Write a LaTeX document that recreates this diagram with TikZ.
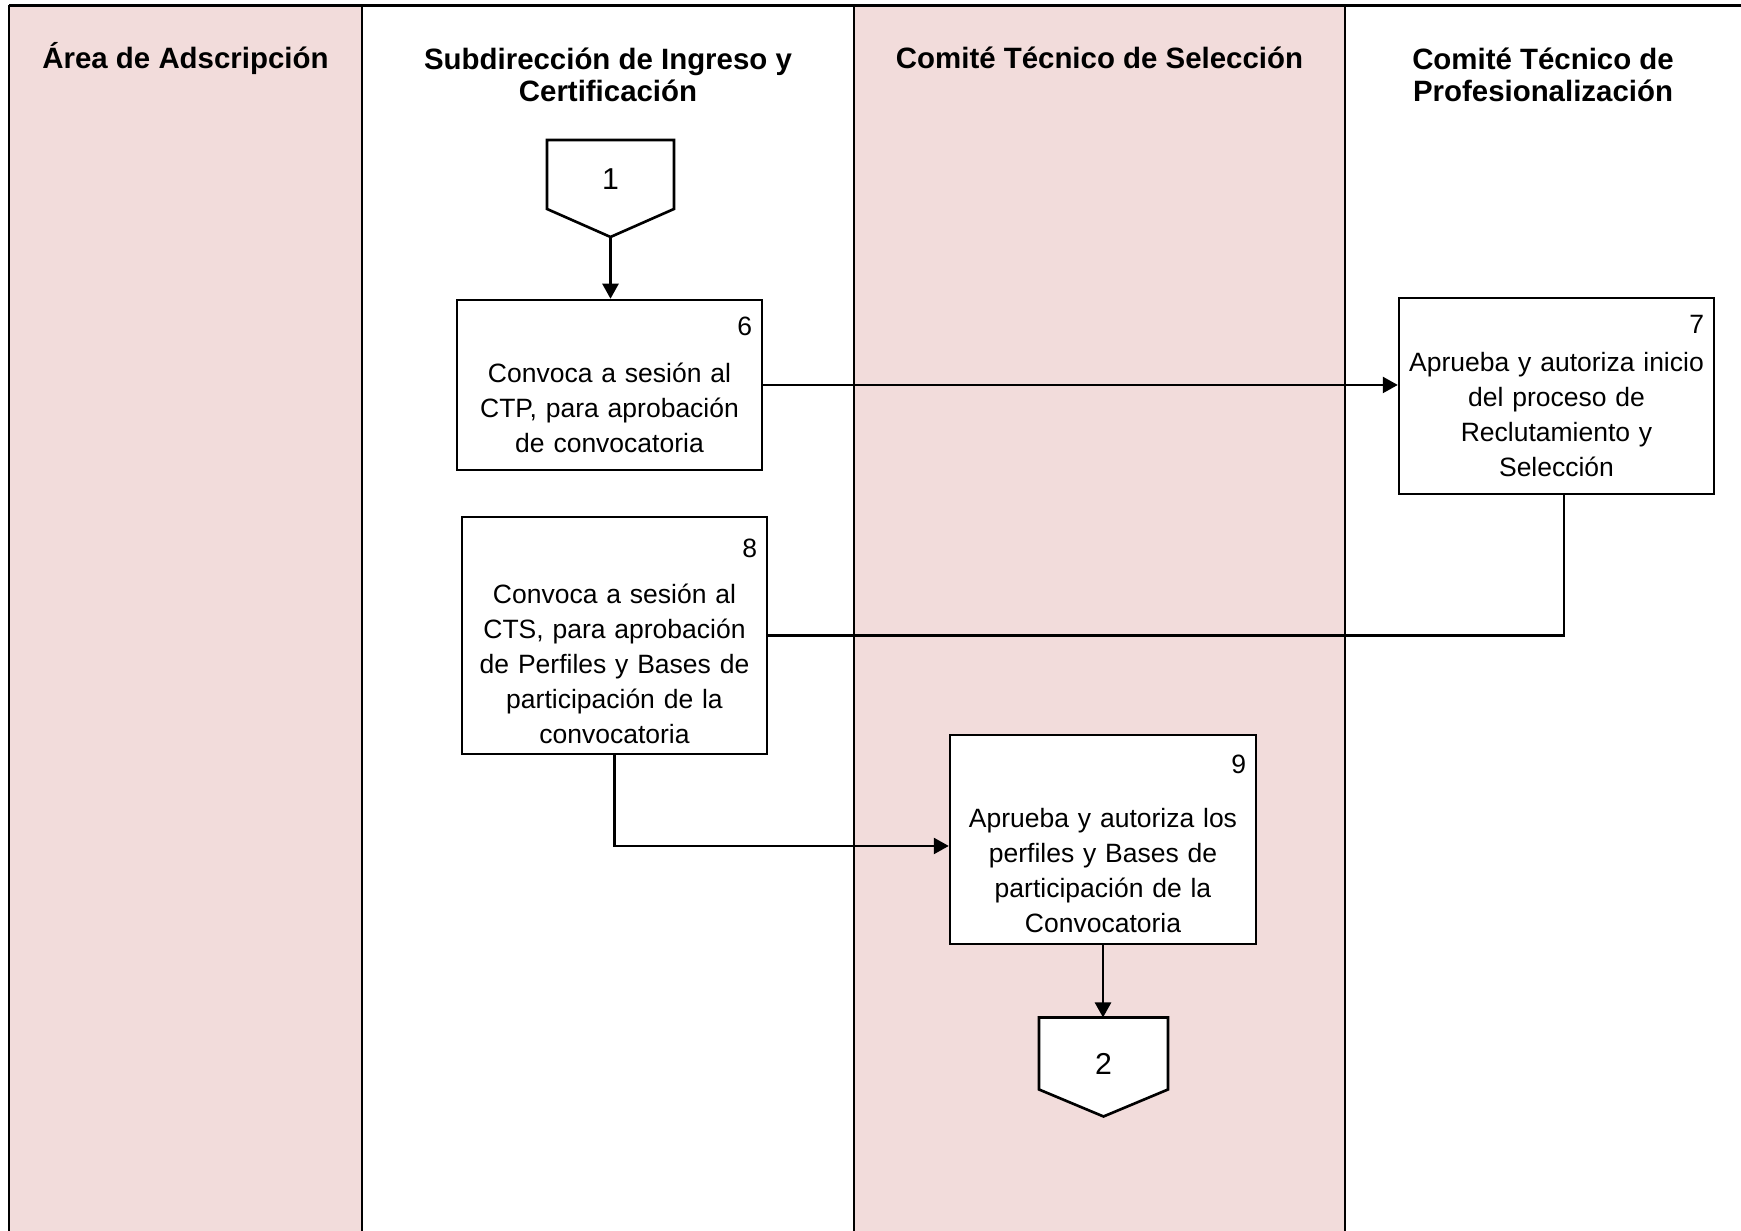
\documentclass[tikz,border=0pt]{standalone}
\usepackage{fontspec}
\setmainfont{Liberation Sans}
\usetikzlibrary{arrows.meta}
\definecolor{lanepink}{HTML}{F2DCDB}

\begin{document}
\begin{tikzpicture}[
  lane/.style={line width=0.55pt},
  lanetitle/.style={anchor=base,align=center,inner sep=0pt,font=\bfseries\fontsize{8.37pt}{9.33pt}\selectfont},
  stepbox/.style={draw,line width=0.7pt,fill=white,align=center,inner xsep=0.1cm,inner ysep=0pt,font=\fontsize{7.54pt}{9.96pt}\selectfont},
  offpage/.style={line width=0.75pt,fill=white},
  num/.style={inner sep=0pt,font=\fontsize{8.6pt}{10pt}\selectfont},
  flow/.style={line width=0.7pt},
  arrow/.style={flow,-{Triangle[length=1.5mm,width=1.6mm]}}
]
\useasboundingbox (0,0) rectangle (17.41,12.31);

\fill[lanepink] (0.09,0) rectangle (3.62,12.255);
\fill[lanepink] (8.54,0) rectangle (13.45,12.255);
\draw[line width=0.85pt] (0.09,12.255) -- (17.41,12.255);
\draw[lane] (0.09,0) -- (0.09,12.255);
\draw[lane] (3.62,0) -- (3.62,12.255);
\draw[lane] (8.54,0) -- (8.54,12.255);
\draw[lane] (13.45,0) -- (13.45,12.255);

\node[lanetitle] (area) at (1.855,11.62) {Área de Adscripción};
\node[lanetitle] (sic) at (6.08,11.29) {Subdirección de Ingreso y\\Certificación};
\node[lanetitle] (cts) at (10.995,11.62) {Comité Técnico de Selección};
\node[lanetitle] (ctp) at (15.43,11.29) {Comité Técnico de\\Profesionalización};

\coordinate (A1) at (5.47,10.91);
\coordinate (A2) at (6.74,10.91);
\coordinate (A3) at (6.74,10.22);
\coordinate (A4) at (6.105,9.94);
\coordinate (A5) at (5.47,10.22);
\draw[offpage] (A1) -- (A2) -- (A3) -- (A4) -- (A5) -- cycle;
\node[num] (con1) at (6.105,10.52) {1};

\coordinate (B1) at (10.39,2.135);
\coordinate (B2) at (11.68,2.135);
\coordinate (B3) at (11.68,1.415);
\coordinate (B4) at (11.035,1.145);
\coordinate (B5) at (10.39,1.415);
\draw[offpage] (B1) -- (B2) -- (B3) -- (B4) -- (B5) -- cycle;
\node[num] (con2) at (11.035,1.67) {2};

\node[stepbox,text width=2.85cm,minimum width=3.05cm,minimum height=1.70cm] (box6) at (6.095,8.46)
  {\hspace*{\fill}6\\[3.4pt]Convoca a sesión al\\CTP, para aprobación\\de convocatoria};
\node[stepbox,text width=2.95cm,minimum width=3.15cm,minimum height=1.96cm] (box7) at (15.565,8.35)
  {\hspace*{\fill}7\\[0.8pt]Aprueba y autoriza inicio\\del proceso de\\Reclutamiento y\\Selección};
\node[stepbox,text width=2.85cm,minimum width=3.05cm,minimum height=2.37cm] (box8) at (6.145,5.955)
  {\hspace*{\fill}\rule{0pt}{8.8pt}8\\[3.2pt]Convoca a sesión al\\CTS, para aprobación\\de Perfiles y Bases de\\participación de la\\convocatoria};
\node[stepbox,text width=2.86cm,minimum width=3.06cm,minimum height=2.09cm] (box9) at (11.03,3.915)
  {\hspace*{\fill}\rule{0pt}{7.9pt}9\\[5.4pt]Aprueba y autoriza los\\perfiles y Bases de\\participación de la\\Convocatoria};

\draw[arrow] (A4) -- (A4 |- box6.north);
\draw[arrow] (box6.east) -- (box6.east -| box7.west);
\draw[flow] ([xshift=0.075cm]box7.south) |- (box8.east);
\draw[arrow] (box8.south) |- ([yshift=-0.065cm]box9.west);
\draw[arrow] (box9.south) -- (B1 -| box9.south);
\end{tikzpicture}
\end{document}
